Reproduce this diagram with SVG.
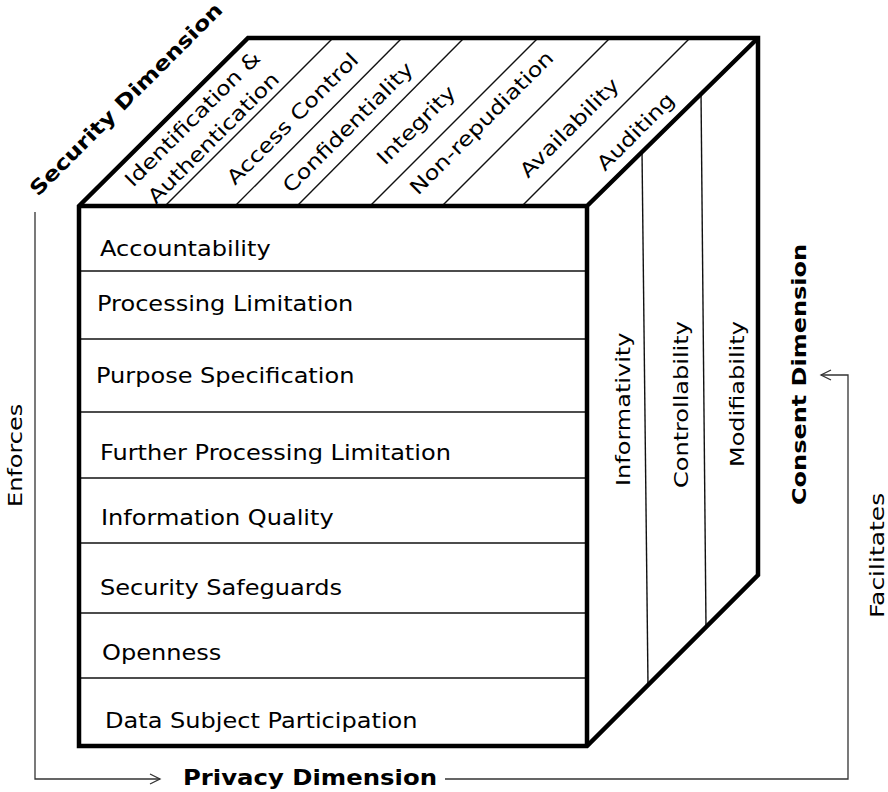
<svg xmlns="http://www.w3.org/2000/svg" width="888" height="792" viewBox="0 0 888 792">
<defs>
<style>
.t{font-family:"DejaVu Sans","Noto Sans",sans-serif;font-size:20px;fill:#000}
.h{font-size:21px}
.b{font-weight:bold}
.edge{fill:none;stroke:#000;stroke-width:4.5;stroke-linejoin:miter}
.div{fill:none;stroke:#111;stroke-width:1.4}
.conn{fill:none;stroke:#333;stroke-width:1.3}
</style>
<marker id="open" markerWidth="14" markerHeight="14" refX="11" refY="6" orient="auto" markerUnits="userSpaceOnUse">
<path d="M1,1 L11,6 L1,11" fill="none" stroke="#333" stroke-width="1.3"/>
</marker>
</defs>
<rect width="888" height="792" fill="#fff"/>

<g id="connectors">
<path class="conn" d="M35,212 V779 H160" marker-end="url(#open)"/>
<path class="conn" d="M445,779 H848 V375 H821" marker-end="url(#open)"/>
</g>

<g id="top-face">
<polygon points="79,206 248,38 758,38 587,206" fill="#fff"/>
<line class="div" x1="165" y1="206" x2="332" y2="39"/>
<line class="div" x1="235" y1="206" x2="401" y2="39"/>
<line class="div" x1="297" y1="206" x2="463" y2="39"/>
<line class="div" x1="370" y1="206" x2="537" y2="39"/>
<line class="div" x1="442" y1="206" x2="609" y2="39"/>
<line class="div" x1="522" y1="206" x2="689" y2="39"/>
<text class="t" transform="translate(133,188) rotate(-45) scale(1.19,1)">Identification &amp;</text>
<text class="t" transform="translate(156,205) rotate(-45) scale(1.2,1)">Authentication</text>
<text class="t" transform="translate(235,186) rotate(-45) scale(1.2,1)">Access Control</text>
<text class="t" transform="translate(291,194) rotate(-45) scale(1.2,1)">Confidentiality</text>
<text class="t" transform="translate(385,166) rotate(-45) scale(1.2,1)">Integrity</text>
<text class="t" transform="translate(418,196) rotate(-45) scale(1.2,1)">Non-repudiation</text>
<text class="t" transform="translate(528,179) rotate(-45) scale(1.2,1)">Availability</text>
<text class="t" transform="translate(605,172) rotate(-45) scale(1.2,1)">Auditing</text>
</g>

<g id="right-face">
<polygon points="587,206 758,38 758,575 587,746" fill="#fff"/>
<line class="div" x1="642" y1="151" x2="648" y2="685"/>
<line class="div" x1="701" y1="92" x2="706" y2="627"/>
<text class="t" transform="translate(630,486) rotate(-90) scale(1.2,1)">Informativity</text>
<text class="t" transform="translate(688,488) rotate(-90) scale(1.2,1)">Controllability</text>
<text class="t" transform="translate(744,467) rotate(-90) scale(1.2,1)">Modifiability</text>
</g>

<g id="front-face">
<rect x="79" y="206" width="508" height="540" fill="#fff"/>
<line class="div" x1="79" y1="271" x2="587" y2="271"/>
<line class="div" x1="79" y1="339" x2="587" y2="339"/>
<line class="div" x1="79" y1="412" x2="587" y2="412"/>
<line class="div" x1="79" y1="478" x2="587" y2="478"/>
<line class="div" x1="79" y1="543" x2="587" y2="543"/>
<line class="div" x1="79" y1="613" x2="587" y2="613"/>
<line class="div" x1="79" y1="678" x2="587" y2="678"/>
<text class="t h" transform="translate(100,256) scale(1.145,1)">Accountability</text>
<text class="t h" transform="translate(97,311) scale(1.145,1)">Processing Limitation</text>
<text class="t h" transform="translate(96,383) scale(1.145,1)">Purpose Specification</text>
<text class="t h" transform="translate(100,460) scale(1.145,1)">Further Processing Limitation</text>
<text class="t h" transform="translate(101,525) scale(1.145,1)">Information Quality</text>
<text class="t h" transform="translate(100,595) scale(1.145,1)">Security Safeguards</text>
<text class="t h" transform="translate(102,660) scale(1.145,1)">Openness</text>
<text class="t h" transform="translate(105,728) scale(1.145,1)">Data Subject Participation</text>
</g>

<g id="cube-edges">
<path class="edge" d="M79,206 L248,38 H758 V575 L587,746 H79 Z"/>
<path class="edge" d="M79,206 H587 V746 M587,206 L758,38"/>
</g>

<g id="labels">
<text class="t b" transform="translate(38,197) rotate(-45) scale(1.2,1)">Security Dimension</text>
<text class="t b h" transform="translate(183,785) scale(1.16,1)">Privacy Dimension</text>
<text class="t b" transform="translate(806,505) rotate(-90) scale(1.2,1)">Consent Dimension</text>
<text class="t" transform="translate(22,507) rotate(-90) scale(1.2,1)">Enforces</text>
<text class="t" transform="translate(884,618) rotate(-90) scale(1.25,1)">Facilitates</text>
</g>
</svg>
